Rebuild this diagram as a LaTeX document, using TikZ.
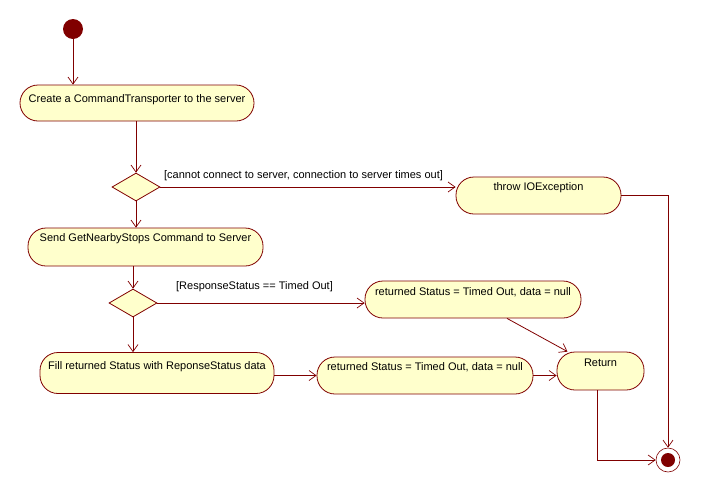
\documentclass[tikz,border=0pt]{standalone}
\usepackage{fontspec}
\setmainfont{Liberation Sans}
\usetikzlibrary{arrows.meta,shapes.geometric}
\definecolor{umlline}{RGB}{128,0,0}
\definecolor{umlfill}{RGB}{255,255,204}
\begin{document}
\begin{tikzpicture}[x=1pt,y=-1pt,
  action/.style={draw=umlline, fill=umlfill, line width=0.8pt, rounded corners=18pt, inner sep=0pt},
  decision/.style={diamond, draw=umlline, fill=umlfill, line width=0.8pt, inner sep=0pt, minimum width=48pt, minimum height=28pt},
  txt/.style={font=\fontsize{11}{13}\selectfont, inner sep=0pt, anchor=center},
  flow/.style={draw=umlline, line width=0.8pt, -{Straight Barb[length=7pt,width=10pt,line width=0.7pt]}},
  edge/.style={draw=umlline, line width=0.8pt}
]
\useasboundingbox (0,0) rectangle (701,493);

% start and final states
\node[circle, fill=umlline, minimum size=20pt, inner sep=0pt] (start) at (73,29) {};
\node[circle, draw=umlline, fill=white, line width=0.6pt, minimum size=24pt, inner sep=0pt] (fin) at (668,460) {};
\node[circle, fill=umlline, minimum size=14pt, inner sep=0pt] (findot) at (fin) {};

% actions
\node[action, minimum width=234pt, minimum height=36pt] (a1) at (137,103) {};
\node[txt] (t1) at (137,100) {Create a CommandTransporter to the server};

\node[decision] (d1) at (136,187) {};

\node[action, minimum width=165pt, minimum height=37pt] (thr) at (538.5,195.5) {};
\node[txt] (tthr) at (538.5,188) {throw IOException};

\node[action, minimum width=235pt, minimum height=38pt] (a2) at (145.5,247) {};
\node[txt] (t2) at (145.5,239) {Send GetNearbyStops Command to Server};

\node[decision] (d2) at (133,303) {};

\node[action, minimum width=216pt, minimum height=37pt] (a3) at (473,299.5) {};
\node[txt] (t3) at (473,292) {returned Status = Timed Out, data = null};

\node[action, minimum width=234pt, minimum height=41pt] (a4) at (157,373) {};
\node[txt] (t4) at (157,367) {Fill returned Status with ReponseStatus data};

\node[action, minimum width=216pt, minimum height=37pt] (a5) at (425,375.5) {};
\node[txt] (t5) at (425,367) {returned Status = Timed Out, data = null};

\node[action, minimum width=87pt, minimum height=38pt] (ret) at (600.5,371) {};
\node[txt] (tret) at (600.5,363) {Return};

% guards
\node[txt] (g1) at (303.5,176) {[cannot connect to server, connection to server times out]};
\node[txt] (g2) at (254.5,287) {[ResponseStatus == Timed Out]};

% transitions
\draw[flow] (start.south) -- (start.south |- a1.north);
\draw[flow] (d1.north |- a1.south) -- (d1.north);
\draw[flow] (d1.east) -- (d1.east -| thr.west);
\draw[flow] (d1.south) -- (d1.south |- a2.north);
\draw[flow] (d2.north |- a2.south) -- (d2.north);
\draw[flow] (d2.east) -- (d2.east -| a3.west);
\draw[flow] (d2.south) -- (d2.south |- a4.north);
\draw[flow] (a4.east |- a5.west) -- (a5.west);
\draw[flow] (a5.east) -- (a5.east -| ret.west);
\draw[flow] ([xshift=34pt]a3.south) -- ([xshift=-33pt]ret.north);
\draw[flow] ([xshift=-3pt]ret.south) |- (fin.west);
\draw[flow] (thr.east) -| (fin.north);
\end{tikzpicture}
\end{document}
